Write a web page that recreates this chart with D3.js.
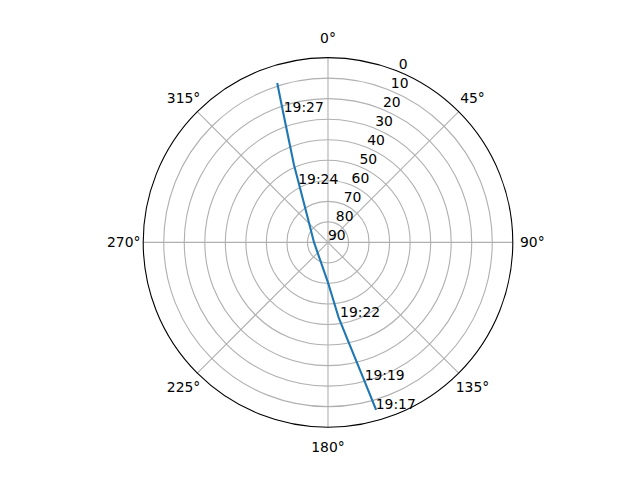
<!DOCTYPE html>
<html>
<head>
<meta charset="utf-8">
<script src="https://cdn.jsdelivr.net/npm/d3@7"></script>
<style>
  body { margin: 0; background: #fff; }
  text { font-family: "DejaVu Sans", sans-serif; font-size: 13.9px; fill: #000; }
</style>
</head>
<body>
<div class="chart"></div>
<script>
// pass track (azimuth deg, elevation deg)
var trackAz = [164.0, 165.3, 168.8, 172.0, 179.6, 270.0, 322.5, 333.5, 336.3, 341.0, 342.3];
var trackEl = [5.6, 20.7, 42.5, 53.3, 70.0, 83.2, 73.2, 58.4, 48.8, 22.7, 9.0];

// time annotations
var labelTime = ["19:17", "19:19", "19:22", "19:24", "19:27"];
var labelAz   = [164.0, 165.1, 170.8, 332.9, 341.3];
var labelEl   = [5.6, 20.6, 53.3, 58.2, 22.8];

// ticks
var thetaTicks = [0, 45, 90, 135, 180, 225, 270, 315];
var rTicks     = [0, 10, 20, 30, 40, 50, 60, 70, 80, 90];

(function(){
  var width  = 640,
      height = 480,
      cx     = 328,
      cy     = 242.4,
      R      = 184.8,
      rad    = Math.PI / 180;

  var svg = d3.select(".chart").append("svg")
              .attr("width", width).attr("height", height);
  svg.append("rect").attr("width", width).attr("height", height).attr("fill", "#fff");

  var g = svg.append("g").attr("transform", "translate(" + cx + "," + cy + ")");

  // elevation 90 in the middle, 0 on the rim
  var r = d3.scaleLinear().domain([90, 0]).range([0, R]);

  var px = function(az, el){ return r(el) * Math.sin(az * rad); };
  var py = function(az, el){ return -r(el) * Math.cos(az * rad); };

  //grid
  g.selectAll("circle.grid").data(rTicks.filter(function(d){ return d > 0 && d < 90; }))
   .enter().append("circle").attr("class", "grid")
   .attr("r", function(d){ return r(d); })
   .attr("fill", "none").attr("stroke", "#b0b0b0").attr("stroke-width", 1.1);

  g.selectAll("line.spoke").data(thetaTicks)
   .enter().append("line").attr("class", "spoke")
   .attr("x1", 0).attr("y1", 0)
   .attr("x2", function(d){ return px(d, 0); })
   .attr("y2", function(d){ return py(d, 0); })
   .attr("stroke", "#b0b0b0").attr("stroke-width", 1.1);

  //track
  var pts = trackAz.map(function(a, i){ return {az: a, el: trackEl[i]}; });
  var line = d3.lineRadial()
               .angle(function(d){ return d.az * rad; })
               .radius(function(d){ return r(d.el); });
  g.append("path").attr("d", line(pts))
   .attr("fill", "none").attr("stroke", "#1f77b4").attr("stroke-width", 2.1)
   .attr("stroke-linejoin", "round").attr("stroke-linecap", "square");

  //time labels
  g.selectAll("text.time").data(labelTime)
   .enter().append("text").attr("class", "time")
   .attr("x", function(d, i){ return px(labelAz[i], labelEl[i]); })
   .attr("y", function(d, i){ return py(labelAz[i], labelEl[i]); })
   .attr("text-anchor", "start")
   .text(function(d){ return d; });

  //outer spine
  g.append("circle").attr("r", R).attr("fill", "none")
   .attr("stroke", "#000").attr("stroke-width", 1.1);

  //theta tick labels
  var labR = R + 19.5;
  g.selectAll("text.theta").data(thetaTicks)
   .enter().append("text").attr("class", "theta")
   .attr("x", function(d){ return labR * Math.sin(d * rad); })
   .attr("y", function(d){ return -labR * Math.cos(d * rad); })
   .attr("text-anchor", "middle").attr("dominant-baseline", "central")
   .text(function(d){ return d + "°"; });

  //radial tick labels at 22.5 deg
  g.selectAll("text.rlab").data(rTicks)
   .enter().append("text").attr("class", "rlab")
   .attr("x", function(d){ return px(22.5, d); })
   .attr("y", function(d){ return py(22.5, d) - 2.5; })
   .attr("text-anchor", "start")
   .text(function(d){ return d; });
})()
</script>
</body>
</html>
